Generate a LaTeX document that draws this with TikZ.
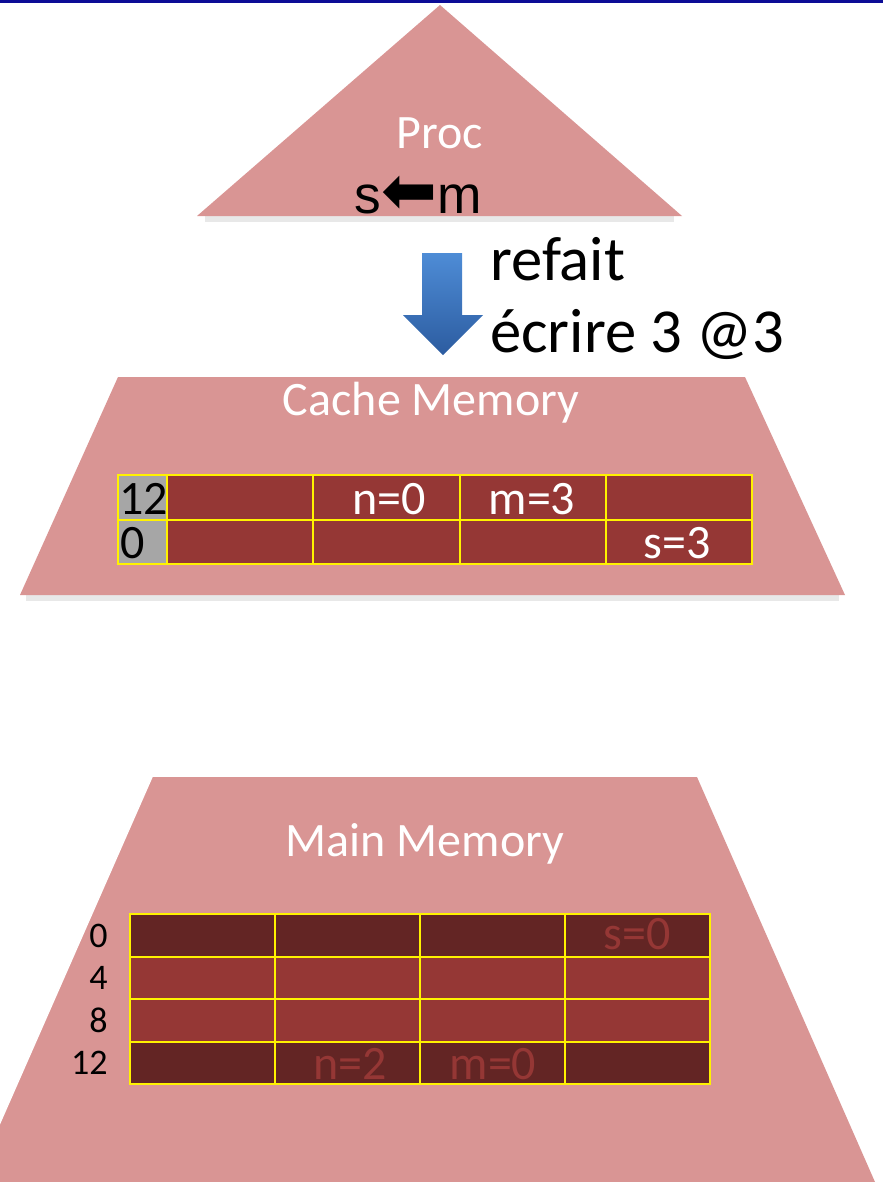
\documentclass[tikz,border=0pt]{standalone}
\usepackage{fontspec}
\setmainfont{Carlito}
\newfontfamily\arialfont{Liberation Sans}
\newfontfamily\symfont{DejaVu Sans}
\usepackage{xcolor}
\usetikzlibrary{positioning,calc}

\definecolor{pyramid}{RGB}{217,149,148}
\definecolor{cellred}{RGB}{149,55,53}
\definecolor{celldark}{RGB}{99,37,36}
\definecolor{taggray}{RGB}{166,166,166}
\definecolor{titlebar}{RGB}{12,12,150}
\definecolor{arrowtop}{RGB}{78,140,214}
\definecolor{arrowbot}{RGB}{44,92,160}

\tikzset{
  level/.style={fill=pyramid},
  shadeline/.style={line width=4, draw=black!18, opacity=0.5},
  cellbox/.style={draw=yellow, line width=1.5pt},
  whitelbl/.style={text=white, inner sep=0, anchor=base, font=\fontsize{36}{42}\selectfont},
  celltxt/.style={inner sep=0, anchor=base, font=\fontsize{36}{42}\selectfont},
  rowlbl/.style={inner sep=0, anchor=base east, font=\fontsize{27}{32}\selectfont},
  bigtxt/.style={inner sep=0, anchor=base west, font=\fontsize{47}{54}\selectfont}
}

\begin{document}
\begin{tikzpicture}[x=0.75pt,y=-0.75pt]
\useasboundingbox (0,0) rectangle (883,1182);
\clip (0,0) rectangle (883,1182);

% Draw title bar
\fill[titlebar] (0,0) rectangle (883,3);

% Draw processor triangle
\coordinate (P1) at (197,216);
\coordinate (P2) at (682,216);
\coordinate (P3) at (440,5);
\draw[shadeline] ($(P1)+(8,3)$) -- ($(P2)+(-8,3)$);
\fill[level] (P1) -- (P2) -- (P3) -- cycle;
\node[whitelbl] (proc) at (440,148) {Proc};
\node[inner sep=0, anchor=base, font=\arialfont\fontsize{40}{46}\selectfont] (instr) at (418,213)
  {s{\symfont\fontsize{50}{50}\selectfont ⬅}m};

% Draw block arrow
\shade[top color=arrowtop, bottom color=arrowbot]
  (422,253) -- (462,253) -- (462,315) -- (483,315) -- (443,355)
  -- (403,315) -- (422,315) -- cycle;
\node[bigtxt] (redo) at (490,280) {refait};
\node[bigtxt] (write) at (490,352) {écrire 3 @3};

% Draw cache trapezoid
\coordinate (C1) at (20,595);
\coordinate (C2) at (845,595);
\coordinate (C3) at (745,377);
\coordinate (C4) at (118,377);
\draw[shadeline] ($(C1)+(6,3)$) -- ($(C2)+(-6,3)$);
\fill[level] (C1) -- (C2) -- (C3) -- (C4) -- cycle;
\node[whitelbl] (cache) at (431,415) {Cache Memory};

% Cache lines
\foreach \r in {0,1} {
  \draw[cellbox, fill=taggray] (118,475+44.5*\r) rectangle (167,519.5+44.5*\r);
  \foreach \c in {0,...,3}
    \draw[cellbox, fill=cellred] (167+146.25*\c,475+44.5*\r) rectangle (313.25+146.25*\c,519.5+44.5*\r);
}
\node[celltxt, anchor=base west] (tagA) at (119,514) {12};
\node[celltxt, anchor=base west] (tagB) at (120,558) {0};
\node[celltxt, text=white] (cn) at (389,514) {n=0};
\node[celltxt, text=white] (cm) at (532,514) {m=3};
\node[celltxt, text=white] (cs) at (677,558) {s=3};

% Draw main memory trapezoid
\coordinate (M1) at (-26,1182);
\coordinate (M2) at (875,1182);
\coordinate (M3) at (697,777);
\coordinate (M4) at (152,777);
\fill[level] (M1) -- (M2) -- (M3) -- (M4) -- cycle;
\draw[white, line width=1] (M4) -- (M1);
\node[whitelbl] (main) at (425,856) {Main Memory};

% Memory words
\foreach \r/\col/\addr in {0/celldark/0,1/cellred/4,2/cellred/8,3/celldark/12} {
  \foreach \c in {0,...,3}
    \draw[cellbox, fill=\col] (130+145*\c,914+42.5*\r) rectangle (275+145*\c,956.5+42.5*\r);
  \node[rowlbl] (a\r) at (108,947+42.5*\r) {\addr};
}
\node[celltxt, text=cellred] (ms) at (637,949) {s=0};
\node[celltxt, text=cellred] (mn) at (350,1079) {n=2};
\node[celltxt, text=cellred] (mm) at (493,1079) {m=0};
\end{tikzpicture}
\end{document}
